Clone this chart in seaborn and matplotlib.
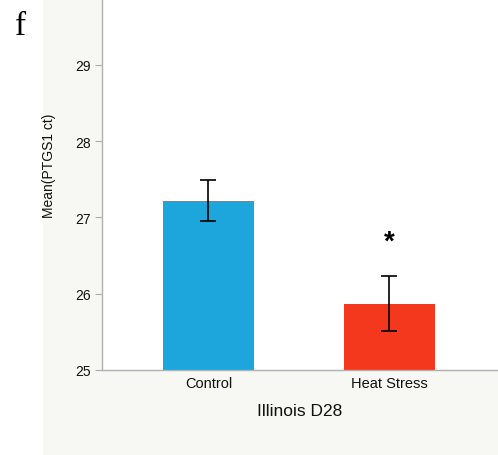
import matplotlib
matplotlib.use("Agg")
import matplotlib.pyplot as plt
import seaborn as sns
import pandas as pd
from matplotlib.patches import Rectangle

groups = ["Control", "Heat Stress"]
means = [27.22, 25.87]
errors = [0.27, 0.36]
colors = ["#1ca6dc", "#f3381e"]
ytick_vals = [25, 26, 27, 28, 29]
group_title = "Illinois D28"
ylabel = "Mean(PTGS1 ct)"
star_group = "Heat Stress"
star_y = 26.72

sns.set_style("white")
plt.rcParams['font.family'] = ['Liberation Sans', 'DejaVu Sans']
plt.rcParams['text.color'] = '#111111'
plt.rcParams['axes.labelcolor'] = '#111111'
plt.rcParams['xtick.color'] = '#111111'
plt.rcParams['ytick.color'] = '#111111'

df = pd.DataFrame({"group": groups, "mean": means})

fig = plt.figure(figsize=(4.98, 4.56), dpi=100)
fig.patch.set_facecolor("white")
bg = Rectangle((43 / 498, 0), 1 - 43 / 498, 1, transform=fig.transFigure,
               facecolor="#f7f7f3", edgecolor="none", zorder=-10)
fig.patches.append(bg)

ax = fig.add_axes([102 / 498, 85 / 456, 1 - 102 / 498, 371 / 456])
ax.set_zorder(1)
ax.set_facecolor("white")
sns.barplot(data=df, x="group", y="mean", hue="group", palette=colors,
            width=0.503, legend=False, ax=ax, errorbar=None, saturation=1,
            linewidth=0)
ax.errorbar(range(len(groups)), means, yerr=errors, fmt="none",
            ecolor="black", elinewidth=1.2, capsize=5.5, capthick=1.2)
ax.text(groups.index(star_group), star_y, "*", ha="center", va="center_baseline",
        fontsize=20, fontweight="bold", color="black", family="Liberation Sans")

ax.set_ylim(25, 29.865)
ax.set_xlim(-0.588, 1.6)
ax.set_yticks(ytick_vals)
ax.set_yticklabels([str(v) for v in ytick_vals])
ax.tick_params(axis="y", length=5, color="#aaaaaa", labelcolor="#111111",
               labelsize=10, pad=3, left=True)
ax.tick_params(axis="x", length=0, labelsize=10.5, pad=4, labelcolor="#111111")
ax.set_xlabel(group_title, fontsize=12.5, labelpad=10)
ax.set_ylabel(ylabel, fontsize=10)
ax.yaxis.set_label_coords(-0.116, 0.554)
for s in ["top", "right"]:
    ax.spines[s].set_visible(False)
for s in ["left", "bottom"]:
    ax.spines[s].set_color("#b0b0b0")
    ax.spines[s].set_linewidth(1.0)

fig.text(15 / 498, 1 - 27 / 456, "f", fontsize=24, family="Liberation Serif",
         ha="left", va="center", color="black")

fig.savefig("out.png", dpi=100)
